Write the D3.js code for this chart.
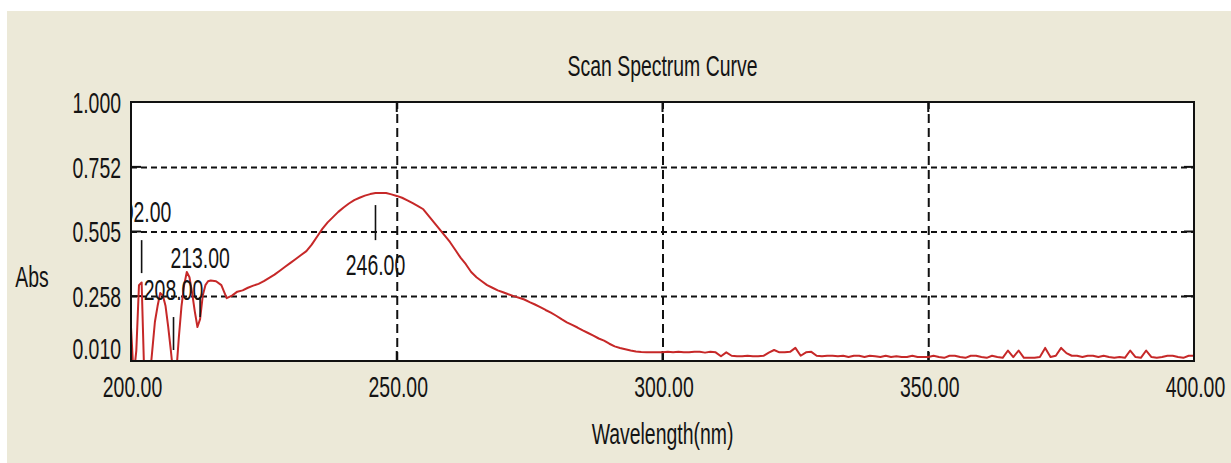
<!DOCTYPE html>
<html>
<head>
<meta charset="utf-8">
<script src="https://cdn.jsdelivr.net/npm/d3@7"></script>
<style>
  html, body { margin: 0; padding: 0; background: #ffffff; }
  svg { display: block; }
  text { font-family: "Liberation Sans", Arial, sans-serif; fill: #141414; }
</style>
</head>
<body>
<svg id="chart" width="1231" height="463"></svg>
<script>
// Scan spectrum: absorbance vs wavelength (nm)
const wavelengths = [
  200.0, 200.5, 201.0, 201.5, 202.0, 202.5, 203.0, 203.5, 204.0, 204.5,
  205.0, 205.5, 206.0, 206.5, 207.0, 207.5, 208.0, 208.5, 209.0, 209.5,
  210.0, 210.5, 211.0, 211.5, 212.0, 212.5, 213.0, 213.5, 214.0, 214.5,
  215, 216, 217, 218, 219, 220, 221, 222, 223, 224, 225, 226, 227, 228, 229,
  230, 231, 232, 233, 234, 235, 236, 237, 238, 239, 240, 241, 242, 243, 244,
  245, 246, 247, 248, 249, 250, 251, 252, 253, 254, 255, 256, 257, 258, 259,
  260, 261, 262, 263, 264, 265, 266, 267, 268, 269, 270, 271, 272, 273, 274,
  275, 276, 277, 278, 279, 280, 281, 282, 283, 284, 285, 286, 287, 288, 289,
  290, 291, 292, 293, 294, 295, 296, 297, 298, 299, 300, 301, 302, 303, 304,
  305, 306, 307, 308, 309, 310, 311, 312, 313, 314, 315, 316, 317, 318, 319,
  320, 321, 322, 323, 324, 325, 326, 327, 328, 329, 330, 331, 332, 333, 334,
  335, 336, 337, 338, 339, 340, 341, 342, 343, 344, 345, 346, 347, 348, 349,
  350, 351, 352, 353, 354, 355, 356, 357, 358, 359, 360, 361, 362, 363, 364,
  365, 366, 367, 368, 369, 370, 371, 372, 373, 374, 375, 376, 377, 378, 379,
  380, 381, 382, 383, 384, 385, 386, 387, 388, 389, 390, 391, 392, 393, 394,
  395, 396, 397, 398, 399, 400
];
const absorbance = [
  0.140, -0.050, 0.050, 0.300, 0.310, -0.050, -0.080, -0.060, 0.050, 0.160,
  0.220, 0.270, 0.260, 0.220, 0.140, 0.050, -0.050, -0.040, 0.100, 0.220,
  0.300, 0.350, 0.330, 0.270, 0.200, 0.140, 0.170, 0.260, 0.300, 0.315,
  0.318, 0.315, 0.300, 0.250, 0.260, 0.275, 0.280, 0.290, 0.298, 0.305, 0.315, 0.328, 0.340, 0.355, 0.370,
  0.385, 0.400, 0.415, 0.430, 0.455, 0.485, 0.515, 0.540, 0.560, 0.580, 0.597, 0.612, 0.625, 0.634, 0.642,
  0.648, 0.652, 0.652, 0.652, 0.647, 0.641, 0.634, 0.624, 0.613, 0.602, 0.590, 0.565, 0.540, 0.515, 0.490,
  0.465, 0.435, 0.405, 0.380, 0.350, 0.330, 0.315, 0.300, 0.290, 0.280, 0.273, 0.265, 0.258, 0.252, 0.245,
  0.235, 0.226, 0.216, 0.205, 0.195, 0.183, 0.170, 0.158, 0.148, 0.138, 0.127, 0.117, 0.107, 0.096, 0.088,
  0.076, 0.066, 0.060, 0.055, 0.050, 0.046, 0.044, 0.043, 0.043, 0.043, 0.043, 0.045, 0.043, 0.045, 0.043,
  0.043, 0.045, 0.045, 0.042, 0.045, 0.043, 0.028, 0.043, 0.030, 0.028, 0.028, 0.030, 0.028, 0.028, 0.030,
  0.042, 0.052, 0.043, 0.043, 0.045, 0.060, 0.030, 0.043, 0.045, 0.030, 0.028, 0.030, 0.030, 0.028, 0.030,
  0.025, 0.030, 0.030, 0.025, 0.030, 0.028, 0.025, 0.030, 0.025, 0.028, 0.025, 0.025, 0.030, 0.025, 0.025,
  0.025, 0.030, 0.025, 0.022, 0.030, 0.030, 0.025, 0.022, 0.030, 0.030, 0.025, 0.022, 0.030, 0.025, 0.022,
  0.050, 0.025, 0.050, 0.022, 0.022, 0.022, 0.025, 0.060, 0.025, 0.030, 0.060, 0.040, 0.030, 0.030, 0.025,
  0.030, 0.030, 0.025, 0.030, 0.025, 0.022, 0.025, 0.022, 0.050, 0.025, 0.022, 0.050, 0.025, 0.022, 0.025,
  0.030, 0.030, 0.025, 0.022, 0.030, 0.030
];

// Axis ticks
const xTicks = [200, 250, 300, 350, 400];
const yTicks = [1.000, 0.752, 0.505, 0.258, 0.010];

// Peak / valley picks
const peakWavelengths = [202, 208, 213, 246];
const peakLabels = ["202.00", "208.00", "213.00", "246.00"];

const titleText = "Scan Spectrum Curve";
const xTitle = "Wavelength(nm)";
const yTitle = "Abs";

// ---- layout ----
const W = 1231, H = 463;
const plot = { left: 131, right: 1194, top: 102, bottom: 361 };
const FONT = 29, SX = 0.67;
const svg = d3.select("#chart");

const x = d3.scaleLinear().domain([200, 400]).range([plot.left, plot.right]);
const y = d3.scaleLinear().domain([0.010, 1.000]).range([plot.bottom, plot.top]);

// window background
svg.append("rect").attr("x", 7).attr("y", 11).attr("width", W - 7).attr("height", H - 11)
  .attr("fill", "#ece9d8");

// plotting area
svg.append("rect")
  .attr("x", plot.left).attr("y", plot.top)
  .attr("width", plot.right - plot.left).attr("height", plot.bottom - plot.top)
  .attr("fill", "#ffffff");

svg.append("defs").append("clipPath").attr("id", "plotClip")
  .append("rect")
  .attr("x", plot.left).attr("y", plot.top)
  .attr("width", plot.right - plot.left).attr("height", plot.bottom - plot.top);

// narrow text helper
function label(sel, txt, cx, cy, anchor) {
  return sel.append("text")
    .attr("transform", `translate(${cx},${cy}) scale(${SX},1)`)
    .attr("text-anchor", anchor || "middle")
    .attr("dy", "0.36em")
    .style("font-size", FONT + "px")
    .text(txt);
}

// dashed grid built from axes
const innerW = plot.right - plot.left, innerH = plot.bottom - plot.top;
const xGrid = svg.append("g")
  .attr("transform", `translate(0,${plot.bottom})`)
  .call(d3.axisBottom(x).tickValues(xTicks.slice(1, -1)).tickSize(-innerH).tickFormat(""));
xGrid.select(".domain").remove();
xGrid.selectAll("line").attr("stroke", "#111").attr("stroke-width", 2)
  .attr("stroke-dasharray", "9,5");

const yGrid = svg.append("g")
  .attr("transform", `translate(${plot.left},0)`)
  .call(d3.axisLeft(y).tickValues(yTicks.slice(1, -1)).tickSize(-innerW).tickFormat(""));
yGrid.select(".domain").remove();
yGrid.selectAll("line").attr("stroke", "#111").attr("stroke-width", 2)
  .attr("stroke-dasharray", "6,4");

// short solid ticks along the frame
const tickLen = 10;
const frameTicks = svg.append("g").attr("stroke", "#111").attr("stroke-width", 2);
xTicks.slice(1, -1).forEach(v => {
  frameTicks.append("line").attr("x1", x(v)).attr("x2", x(v)).attr("y1", plot.bottom).attr("y2", plot.bottom - tickLen);
  frameTicks.append("line").attr("x1", x(v)).attr("x2", x(v)).attr("y1", plot.top).attr("y2", plot.top + tickLen);
});
yTicks.slice(1, -1).forEach(v => {
  frameTicks.append("line").attr("x1", plot.left).attr("x2", plot.left + tickLen).attr("y1", y(v)).attr("y2", y(v));
  frameTicks.append("line").attr("x1", plot.right).attr("x2", plot.right - tickLen).attr("y1", y(v)).attr("y2", y(v));
});

// spectrum line
const data = wavelengths.map((w, i) => ({ w, a: absorbance[i] }));
const line = d3.line().x(d => x(d.w)).y(d => y(d.a));
svg.append("path")
  .datum(data)
  .attr("clip-path", "url(#plotClip)")
  .attr("d", line)
  .attr("fill", "none")
  .attr("stroke", "#c62828")
  .attr("stroke-width", 2)
  .attr("stroke-linejoin", "round");

// pick markers: vertical bar plus wavelength text (absorbance-level placement)
const markerLayout = {
  202: { top: 0.472, bottom: 0.346, text: 0.582 },
  208: { top: 0.178, bottom: 0.052, text: 0.285 },
  213: { top: 0.255, bottom: 0.178, text: 0.404 },
  246: { top: 0.606, bottom: 0.472, text: 0.377 }
};
const marks = svg.append("g").attr("clip-path", "url(#plotClip)");
peakWavelengths.forEach((w, i) => {
  const m = markerLayout[w];
  marks.append("line")
    .attr("x1", x(w)).attr("x2", x(w))
    .attr("y1", y(m.top)).attr("y2", y(m.bottom))
    .attr("stroke", "#111").attr("stroke-width", 1.6);
  label(marks, peakLabels[i], x(w), y(m.text), "middle");
});

// frame
svg.append("rect")
  .attr("x", plot.left).attr("y", plot.top)
  .attr("width", innerW).attr("height", innerH)
  .attr("fill", "none").attr("stroke", "#111").attr("stroke-width", 2);

// y tick labels
const yAxis = svg.append("g")
  .attr("transform", `translate(${plot.left},0)`)
  .call(d3.axisLeft(y).tickValues(yTicks).tickSize(0).tickFormat(d3.format(".3f")));
yAxis.select(".domain").remove();
yAxis.selectAll(".tick text")
  .attr("x", null).attr("dy", "0.36em")
  .attr("transform", d => `translate(-10,${d === 0.010 ? -13 : 0}) scale(${SX},1)`)
  .style("font-size", FONT + "px")
  .style("font-family", "'Liberation Sans', Arial, sans-serif")
  .attr("fill", "#141414");

// x tick labels
const xAxis = svg.append("g")
  .attr("transform", `translate(0,${plot.bottom})`)
  .call(d3.axisBottom(x).tickValues(xTicks).tickSize(0).tickFormat(d3.format(".2f")));
xAxis.select(".domain").remove();
xAxis.selectAll(".tick text")
  .attr("y", null).attr("dy", "0.36em")
  .attr("transform", `translate(1,26) scale(${SX},1)`)
  .style("font-size", FONT + "px")
  .style("font-family", "'Liberation Sans', Arial, sans-serif")
  .attr("fill", "#141414");

// titles
label(svg, titleText, (plot.left + plot.right) / 2, 66, "middle");
label(svg, xTitle, (plot.left + plot.right) / 2, 434, "middle");
label(svg, yTitle, 32, 277, "middle");
</script>
</body>
</html>
